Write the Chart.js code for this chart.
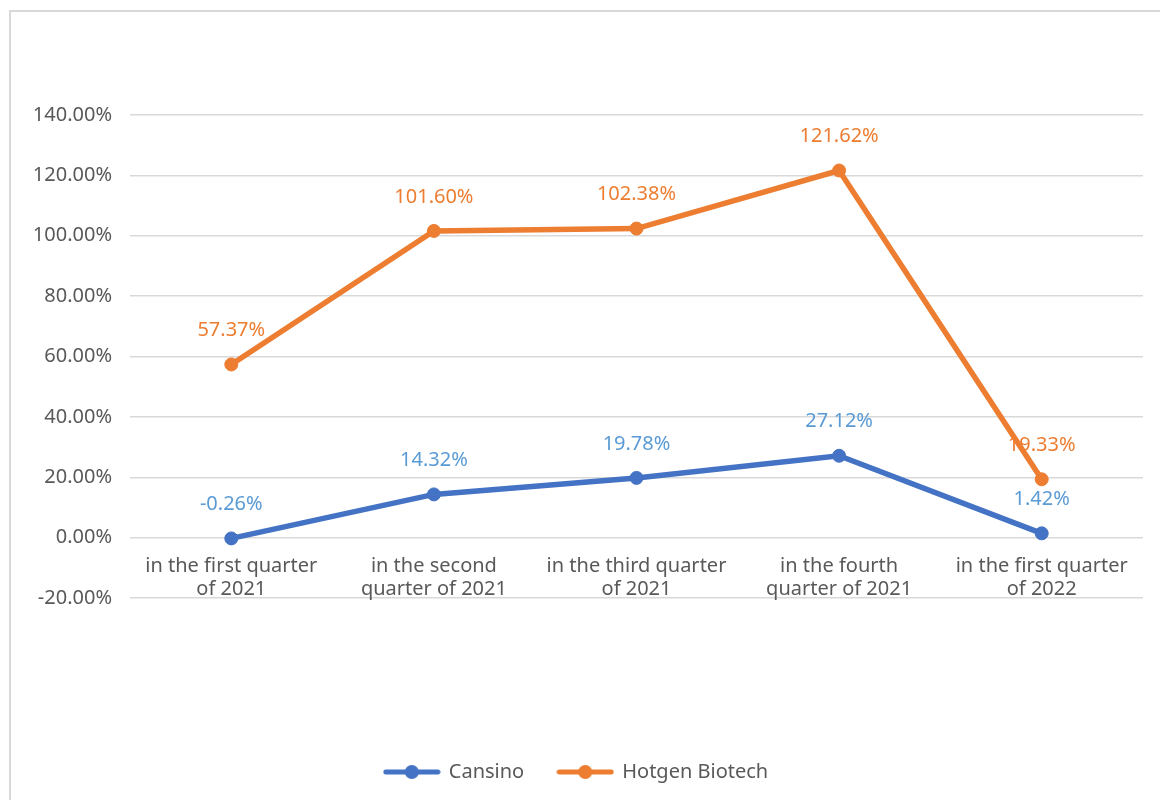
<!DOCTYPE html>
<html>
<head>
<meta charset="utf-8">
<script src="https://cdn.jsdelivr.net/npm/chart.js@4"></script>
<style>
    body { margin: 0; background: #fff; }
    #wrap { width: 1160px; height: 800px; }
</style>
</head>
<body>
<div id="wrap"><canvas id="chart" width="1160" height="800"></canvas></div>
<script>
const categories = [
    ['in the first quarter', 'of 2021'],
    ['in the second', 'quarter of 2021'],
    ['in the third quarter', 'of 2021'],
    ['in the fourth', 'quarter of 2021'],
    ['in the first quarter', 'of 2022']
]
const cansino = [-0.26, 14.32, 19.78, 27.12, 1.42]
const hotgen = [57.37, 101.60, 102.38, 121.62, 19.33]
const yTicks = [-20, 0, 20, 40, 60, 80, 100, 120, 140]

const FONT = "'Noto Sans', sans-serif"
const BLUE = '#4472C4'
const ORANGE = '#ED7D31'
const labelColors = ['#5B9BD5', ORANGE]

function legendMarker(color) {
    const c = document.createElement('canvas')
    c.width = 58
    c.height = 16
    const g = c.getContext('2d')
    g.strokeStyle = color
    g.lineWidth = 5
    g.lineCap = 'round'
    g.beginPath()
    g.moveTo(3, 8)
    g.lineTo(55, 8)
    g.stroke()
    g.fillStyle = color
    g.beginPath()
    g.arc(29, 8, 7, 0, Math.PI * 2)
    g.fill()
    return c
}
const markers = [legendMarker(BLUE), legendMarker(ORANGE)]

// outer frame like the office chart box
const framePlugin = {
    id: 'frame',
    beforeDraw(chart) {
        const ctx = chart.ctx
        ctx.save()
        ctx.strokeStyle = '#d9d9d9'
        ctx.lineWidth = 2
        ctx.strokeRect(10, 11, 1200, 1000)
        ctx.restore()
    }
}

// value labels above each point, drawn under the lines
const valueLabels = {
    id: 'valueLabels',
    beforeDatasetsDraw(chart) {
        const ctx = chart.ctx
        ctx.save()
        ctx.font = `20px ${FONT}`
        ctx.textAlign = 'center'
        ctx.textBaseline = 'middle'
        chart.data.datasets.forEach((ds, i) => {
            ctx.fillStyle = labelColors[i]
            chart.getDatasetMeta(i).data.forEach((pt, j) => {
                ctx.fillText(ds.data[j].toFixed(2) + '%', pt.x, pt.y - 34)
            })
        })
        ctx.restore()
    }
}

new Chart(document.getElementById('chart'), {
    type: 'line',
    data: {
        labels: categories,
        datasets: [{
            label: 'Cansino',
            data: cansino,
            borderColor: BLUE,
            backgroundColor: BLUE,
            borderWidth: 5.5,
            pointRadius: 6.5,
            pointBorderWidth: 1,
            tension: 0
        }, {
            label: 'Hotgen Biotech',
            data: hotgen,
            borderColor: ORANGE,
            backgroundColor: ORANGE,
            borderWidth: 5.5,
            pointRadius: 6.5,
            pointBorderWidth: 1,
            tension: 0
        }]
    },
    options: {
        responsive: false,
        animation: false,
        layout: {
            padding: { top: 115, left: 10, right: 17, bottom: 8 }
        },
        scales: {
            x: {
                position: { y: 0 },
                offset: true,
                grid: { display: false, offset: true },
                border: { display: false },
                ticks: {
                    color: '#595959',
                    padding: 9,
                    maxRotation: 0,
                    autoSkip: false,
                    font: { family: FONT, size: 20, lineHeight: 1.15 }
                }
            },
            gap: {
                type: 'category',
                position: 'bottom',
                offset: true,
                grid: { display: false },
                border: { display: false },
                ticks: { display: false },
                afterFit: scale => { scale.height = 130 }
            },
            y: {
                min: -20,
                max: 140,
                afterBuildTicks: scale => {
                    scale.ticks = yTicks.map(v => ({ value: v }))
                },
                afterFit: scale => { scale.width = 120 },
                grid: { color: '#d9d9d9', lineWidth: 1.5, drawTicks: false },
                border: { display: false },
                ticks: {
                    color: '#595959',
                    padding: 18,
                    font: { family: FONT, size: 20 },
                    callback: v => v.toFixed(2) + '%'
                }
            }
        },
        plugins: {
            legend: {
                position: 'bottom',
                labels: {
                    usePointStyle: true,
                    pointStyleWidth: 54,
                    padding: 34,
                    color: '#595959',
                    font: { family: FONT, size: 20 },
                    generateLabels: chart => {
                        const items = Chart.defaults.plugins.legend.labels.generateLabels(chart)
                        items.forEach((item, i) => { item.pointStyle = markers[i] })
                        return items
                    }
                }
            },
            tooltip: { enabled: false }
        }
    },
    plugins: [framePlugin, valueLabels]
})
</script>
</body>
</html>
